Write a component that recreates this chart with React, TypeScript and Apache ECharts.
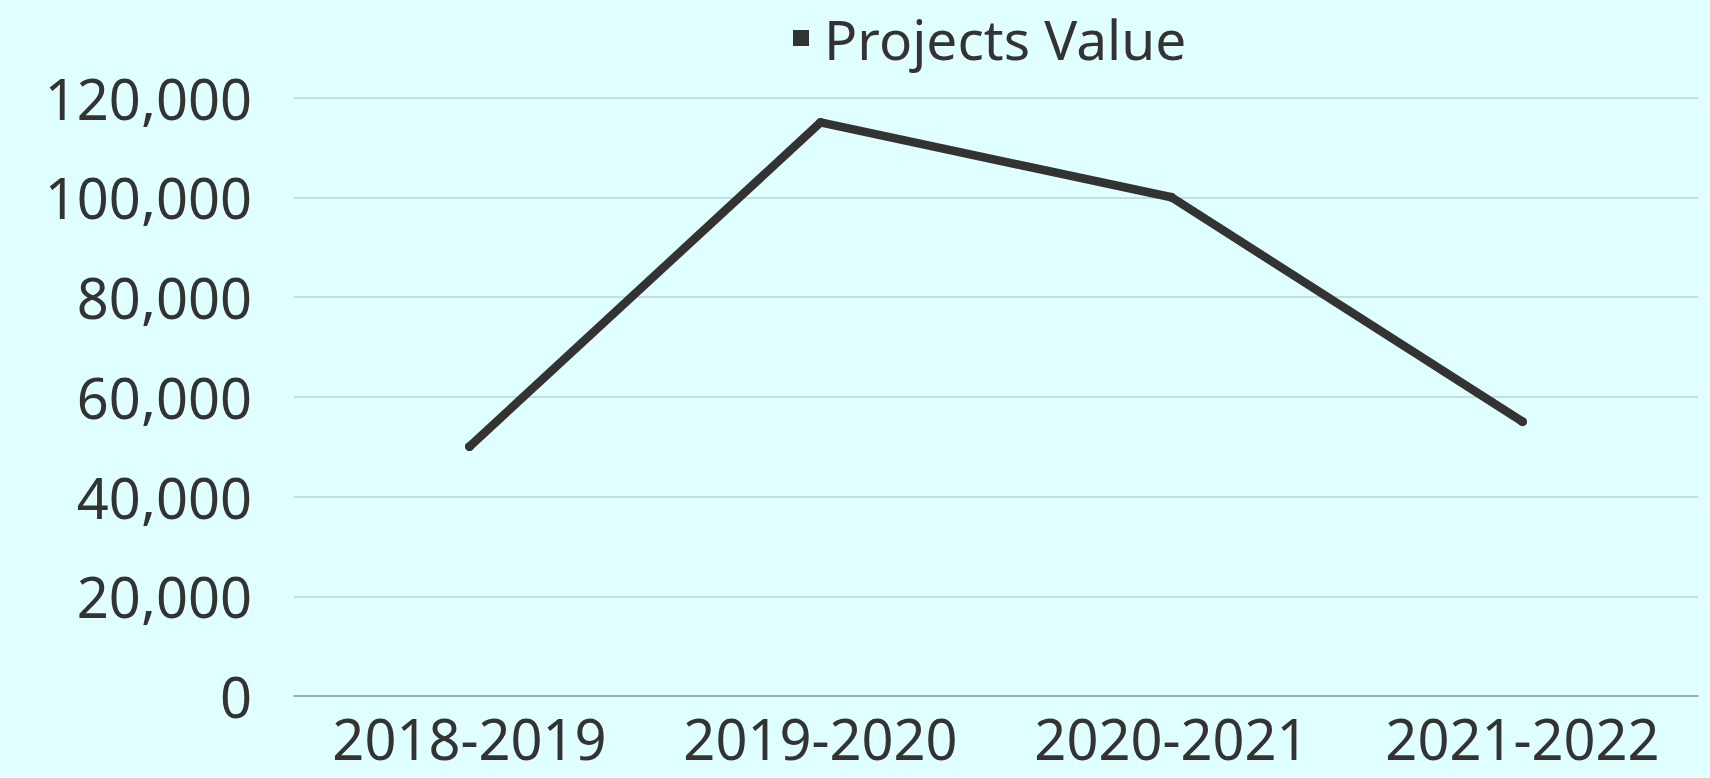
import React, { useEffect, useRef } from "react";
import * as echarts from "echarts";

const categories = ["2018-2019", "2019-2020", "2020-2021", "2021-2022"];
const projectsValue = [50000, 115000, 100000, 55000];
const seriesName = "Projects Value";
const yMin = 0;
const yMax = 120000;
const yInterval = 20000;

const FONT = '"Noto Sans", "Open Sans", sans-serif';
const TEXT = "#333333";

export default function App() {
  const ref = useRef<HTMLDivElement>(null);

  useEffect(() => {
    document.body.style.margin = "0";
    if (!ref.current) return;
    const chart = echarts.init(ref.current, null, { renderer: "svg" });
    chart.setOption({
      animation: false,
      backgroundColor: "#e0ffff",
      textStyle: { fontFamily: FONT, color: TEXT },
      legend: {
        show: true,
        left: 788,
        top: 5,
        icon: "rect",
        itemWidth: 16,
        itemHeight: 16,
        textStyle: {
          fontFamily: FONT,
          fontSize: 55,
          lineHeight: 56,
          color: TEXT,
          padding: [0, 0, 0, 10],
        },
        data: [{ name: seriesName, itemStyle: { color: "#333333" } }],
      },
      grid: {
        left: 294,
        right: 12,
        top: 97.5,
        bottom: 82,
        containLabel: false,
      },
      xAxis: {
        type: "category",
        data: categories,
        boundaryGap: true,
        axisLine: { show: true, lineStyle: { color: "#8c9c9c", width: 1.5 } },
        axisTick: { show: false },
        axisLabel: {
          interval: 0,
          fontFamily: FONT,
          fontSize: 56,
          lineHeight: 56,
          color: TEXT,
          margin: 14,
        },
      },
      yAxis: {
        type: "value",
        min: yMin,
        max: yMax,
        interval: yInterval,
        axisLine: { show: false },
        axisTick: { show: false },
        splitLine: { show: true, lineStyle: { color: "#b9d5d5", width: 1.5 } },
        axisLabel: {
          fontFamily: FONT,
          fontSize: 56,
          lineHeight: 56,
          color: TEXT,
          margin: 42,
          padding: [0, 0, 10, 0],
          formatter: (v: number) => v.toLocaleString("en-US"),
        },
      },
      series: [
        {
          name: seriesName,
          type: "line",
          data: projectsValue,
          symbol: "circle",
          symbolSize: 9,
          showSymbol: true,
          itemStyle: { color: "#333333" },
          lineStyle: { color: "#333333", width: 8.5, cap: "round", join: "round" },
        },
      ],
    });
    return () => chart.dispose();
  }, []);

  return <div ref={ref} style={{ width: 1710, height: 778 }} />;
}
